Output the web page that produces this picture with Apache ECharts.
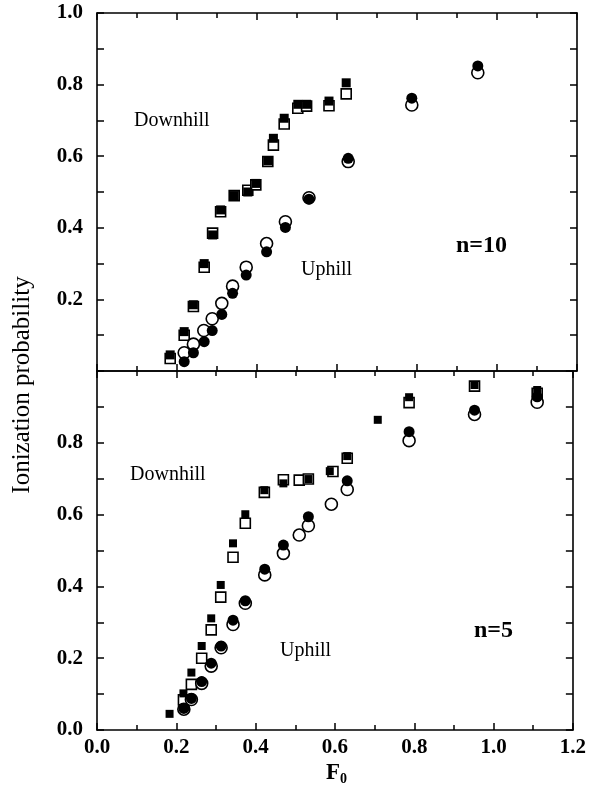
<!DOCTYPE html>
<html>
<head>
<meta charset="utf-8">
<script src="https://cdn.jsdelivr.net/npm/echarts@6/dist/echarts.min.js"></script>
<style>
html, body { margin: 0; padding: 0; background: #fff; }
#chart { width: 589px; height: 793px; }
</style>
</head>
<body>
<div id="chart"></div>
<script>
// n=10 panel
var topDownFilled = [[0.183,0.045],[0.218,0.110],[0.241,0.185],[0.268,0.300],[0.289,0.380],[0.309,0.450],[0.343,0.490],[0.377,0.500],[0.397,0.524],[0.427,0.587],[0.441,0.650],[0.468,0.706],[0.502,0.745],[0.524,0.745],[0.580,0.754],[0.623,0.805]];
var topDownOpen = [[0.183,0.035],[0.218,0.100],[0.241,0.180],[0.268,0.290],[0.289,0.385],[0.309,0.445],[0.343,0.490],[0.377,0.505],[0.397,0.520],[0.427,0.585],[0.441,0.631],[0.468,0.690],[0.502,0.734],[0.524,0.740],[0.580,0.741],[0.623,0.774]];
var topUpFilled = [[0.218,0.026],[0.241,0.051],[0.268,0.082],[0.288,0.113],[0.312,0.158],[0.339,0.217],[0.373,0.268],[0.424,0.333],[0.471,0.401],[0.530,0.480],[0.628,0.594],[0.787,0.762],[0.952,0.852]];
var topUpOpen = [[0.218,0.051],[0.241,0.075],[0.267,0.113],[0.288,0.146],[0.312,0.189],[0.339,0.237],[0.373,0.290],[0.424,0.356],[0.471,0.417],[0.530,0.484],[0.628,0.585],[0.787,0.743],[0.952,0.833]];

// n=5 panel
var botDownFilled = [[0.183,0.045],[0.218,0.102],[0.238,0.160],[0.264,0.234],[0.288,0.311],[0.312,0.404],[0.343,0.520],[0.374,0.601],[0.422,0.668],[0.470,0.687],[0.533,0.699],[0.587,0.721],[0.631,0.763],[0.708,0.864],[0.787,0.927],[0.952,0.961],[1.110,0.947]];
var botDownOpen = [[0.218,0.084],[0.238,0.127],[0.264,0.200],[0.288,0.279],[0.312,0.370],[0.343,0.481],[0.374,0.576],[0.422,0.662],[0.470,0.697],[0.510,0.696],[0.533,0.699],[0.595,0.720],[0.631,0.757],[0.787,0.912],[0.952,0.958],[1.110,0.938]];
var botUpFilled = [[0.219,0.060],[0.238,0.088],[0.264,0.135],[0.288,0.186],[0.313,0.234],[0.343,0.306],[0.374,0.360],[0.423,0.448],[0.470,0.515],[0.533,0.594],[0.631,0.694],[0.787,0.831],[0.952,0.891],[1.110,0.928]];
var botUpOpen = [[0.219,0.058],[0.238,0.085],[0.264,0.130],[0.288,0.178],[0.313,0.229],[0.343,0.294],[0.374,0.353],[0.423,0.432],[0.470,0.492],[0.510,0.543],[0.533,0.569],[0.591,0.629],[0.631,0.670],[0.787,0.806],[0.952,0.879],[1.110,0.913]];

var xTicks = ["0.0","0.2","0.4","0.6","0.8","1.0","1.2"];
var topYTicks = ["0.2","0.4","0.6","0.8","1.0"];
var botYTicks = ["0.0","0.2","0.4","0.6","0.8"];

var FONT = "Liberation Serif";

function label(v, list) {
    var s = v.toFixed(1);
    return list.indexOf(s) >= 0 ? s : "";
}

function xAxis(grid, pos, labels) {
    return {
        type: "value", gridIndex: grid, position: pos,
        min: 0, max: 1.2, interval: 0.2,
        axisLine: { onZero: false, lineStyle: { color: "#000", width: 1.6 } },
        axisTick: { inside: true, length: 7, lineStyle: { color: "#000", width: 1.5 } },
        minorTick: { show: true, splitNumber: 2, length: 5, lineStyle: { color: "#000", width: 1.5 } },
        splitLine: { show: false },
        axisLabel: {
            show: !!labels, margin: 7, color: "#000", fontFamily: FONT, fontSize: 21, fontWeight: "bold",
            formatter: function (v) { return label(v, labels || []); }
        }
    };
}

function yAxis(grid, pos, labels) {
    return {
        type: "value", gridIndex: grid, position: pos,
        min: 0, max: 1.0, interval: 0.2,
        axisLine: { onZero: false, lineStyle: { color: "#000", width: 1.6 } },
        axisTick: { inside: true, length: 7, lineStyle: { color: "#000", width: 1.5 } },
        minorTick: { show: true, splitNumber: 2, length: 7, lineStyle: { color: "#000", width: 1.5 } },
        splitLine: { show: false },
        axisLabel: {
            show: !!labels, margin: 14, color: "#000", fontFamily: FONT, fontSize: 21, fontWeight: "bold",
            formatter: function (v) { return label(v, labels || []); }
        }
    };
}

function series(data, xi, yi, shape, filled, size) {
    return {
        type: "scatter", xAxisIndex: xi, yAxisIndex: yi,
        symbol: shape, symbolSize: size, data: data,
        itemStyle: filled ? { color: "#000", opacity: 1 } : { color: "#fff", borderColor: "#000", borderWidth: 1.6, opacity: 1 },
        z: filled ? 3 : 2
    };
}

function text(x, y, s, size, bold) {
    return {
        type: "text", x: x, y: y,
        style: { text: s, fill: "#000", font: (bold ? "bold " : "") + size + "px " + FONT, verticalAlign: "middle" }
    };
}

var chart = echarts.init(document.getElementById("chart"));
chart.setOption({
    backgroundColor: "#fff",
    animation: false,
    grid: [
        { left: 97, top: 13, width: 480, height: 358 },
        { left: 97, top: 371, width: 480, height: 359 }
    ],
    xAxis: [
        xAxis(0, "bottom", null), xAxis(0, "top", null),
        xAxis(1, "bottom", xTicks), xAxis(1, "top", null)
    ],
    yAxis: [
        yAxis(0, "left", topYTicks), yAxis(0, "right", null),
        yAxis(1, "left", botYTicks), yAxis(1, "right", null)
    ],
    series: [
        series(topDownOpen, 0, 0, "rect", false, 10),
        series(topDownFilled, 0, 0, "rect", true, 9),
        series(topUpOpen, 0, 0, "circle", false, 12),
        series(topUpFilled, 0, 0, "circle", true, 11),
        series(botDownOpen, 2, 2, "rect", false, 10),
        series(botDownFilled, 2, 2, "rect", true, 8),
        series(botUpOpen, 2, 2, "circle", false, 12),
        series(botUpFilled, 2, 2, "circle", true, 11)
    ],
    graphic: [
        text(134, 121, "Downhill", 20, false),
        text(301, 270, "Uphill", 20, false),
        text(456, 246, "n=10", 24, true),
        text(130, 475, "Downhill", 20, false),
        text(280, 651, "Uphill", 20, false),
        text(474, 631, "n=5", 24, true),
        {
            type: "text", x: 22, y: 385, rotation: Math.PI / 2,
            style: { text: "Ionization probability", fill: "#000", font: "25px " + FONT, align: "center", verticalAlign: "middle" }
        },
        {
            type: "text", x: 326, y: 773,
            style: {
                text: "{a|F}{b|0}", verticalAlign: "middle",
                rich: {
                    a: { fontFamily: FONT, fontSize: 23, fontWeight: "bold", fill: "#000" },
                    b: { fontFamily: FONT, fontSize: 14, fontWeight: "bold", fill: "#000", padding: [12, 0, 0, 0] }
                }
            }
        }
    ]
});
</script>
</body>
</html>
